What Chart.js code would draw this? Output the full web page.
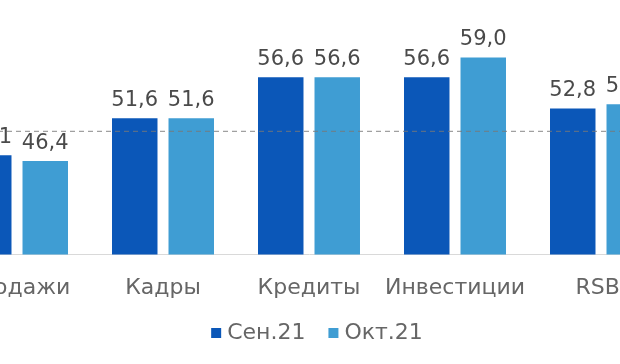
<!DOCTYPE html>
<html>
<head>
<meta charset="utf-8">
<script src="https://cdn.jsdelivr.net/npm/chart.js@4"></script>
<style>
  html, body { margin: 0; padding: 0; background: #fff; overflow: hidden; width: 620px; height: 364px; }
  #wrap { position: absolute; left: -56px; top: 0; width: 730px; height: 364px; }
</style>
</head>
<body>
<div id="wrap"><canvas id="grafico" width="730" height="364"></canvas></div>
<script>
const categorias = ['Продажи', 'Кадры', 'Кредиты', 'Инвестиции', 'RSBI'];
const sen21 = [47.1, 51.6, 56.6, 56.6, 52.8];
const okt21 = [46.4, 51.6, 56.6, 59.0, 53.3];
const nomesSeries = ['Сен.21', 'Окт.21'];
const coresSeries = ['#0b57b8', '#3f9dd3'];
const linhaBase = 50;

const fonte = 'DejaVu Sans';

// linha tracejada no nivel 50
const linhaTracejada = {
    id: 'linhaTracejada',
    afterDatasetsDraw(chart) {
        const ctx = chart.ctx;
        const y = chart.scales.y.getPixelForValue(linhaBase);
        ctx.save();
        ctx.strokeStyle = 'rgba(120,120,120,0.7)';
        ctx.lineWidth = 1.2;
        ctx.setLineDash([5, 4]);
        ctx.beginPath();
        ctx.moveTo(chart.chartArea.left, y);
        ctx.lineTo(chart.chartArea.right, y);
        ctx.stroke();
        ctx.restore();
    }
};

// rotulos com os valores em cima das barras
const rotulos = {
    id: 'rotulos',
    afterDatasetsDraw(chart) {
        const ctx = chart.ctx;
        ctx.save();
        ctx.font = '21px "' + fonte + '"';
        ctx.fillStyle = '#4a4a4a';
        ctx.textAlign = 'center';
        ctx.textBaseline = 'alphabetic';
        chart.data.datasets.forEach((ds, i) => {
            chart.getDatasetMeta(i).data.forEach((bar, j) => {
                ctx.fillText(ds.data[j].toFixed(1).replace('.', ','), bar.x, bar.y - 12);
            });
        });
        ctx.restore();
    }
};

// legenda desenhada embaixo (a do chart.js nao deixa ajustar o espaco)
const legenda = {
    id: 'legenda',
    afterDraw(chart) {
        const ctx = chart.ctx;
        ctx.save();
        ctx.font = '22px "' + fonte + '"';
        ctx.textBaseline = 'middle';
        ctx.textAlign = 'left';
        const y = 333;
        const larguras = chart.data.datasets.map(ds => ctx.measureText(ds.label).width);
        let total = 0;
        larguras.forEach(w => { total += 10 + 6 + w; });
        total += 23 * (larguras.length - 1);
        let x = (chart.chartArea.left + chart.chartArea.right) / 2 - total / 2 + 8;
        chart.data.datasets.forEach((ds, i) => {
            ctx.fillStyle = ds.backgroundColor;
            ctx.fillRect(x, y - 5, 10, 10);
            ctx.fillStyle = '#666666';
            ctx.fillText(ds.label, x + 16, y);
            x += 16 + larguras[i] + 23;
        });
        ctx.restore();
    }
};

new Chart(document.getElementById('grafico'), {
    type: 'bar',
    data: {
        labels: categorias,
        datasets: [
            { label: nomesSeries[0], data: sen21, backgroundColor: coresSeries[0] },
            { label: nomesSeries[1], data: okt21, backgroundColor: coresSeries[1] }
        ]
    },
    options: {
        responsive: false,
        animation: false,
        categoryPercentage: 0.774,
        barPercentage: 0.805,
        layout: { padding: { top: 0, bottom: 51, left: 0, right: 0 } },
        scales: {
            x: {
                grid: { display: false },
                border: { color: '#d9d9d9', width: 1 },
                ticks: {
                    color: '#666666',
                    font: { family: fonte, size: 22 },
                    padding: 12,
                    maxRotation: 0,
                    minRotation: 0,
                    autoSkip: false
                }
            },
            y: {
                display: false,
                min: 35,
                max: 66
            }
        },
        plugins: {
            legend: { display: false },
            tooltip: { enabled: false }
        }
    },
    plugins: [linhaTracejada, rotulos, legenda]
});
</script>
</body>
</html>
